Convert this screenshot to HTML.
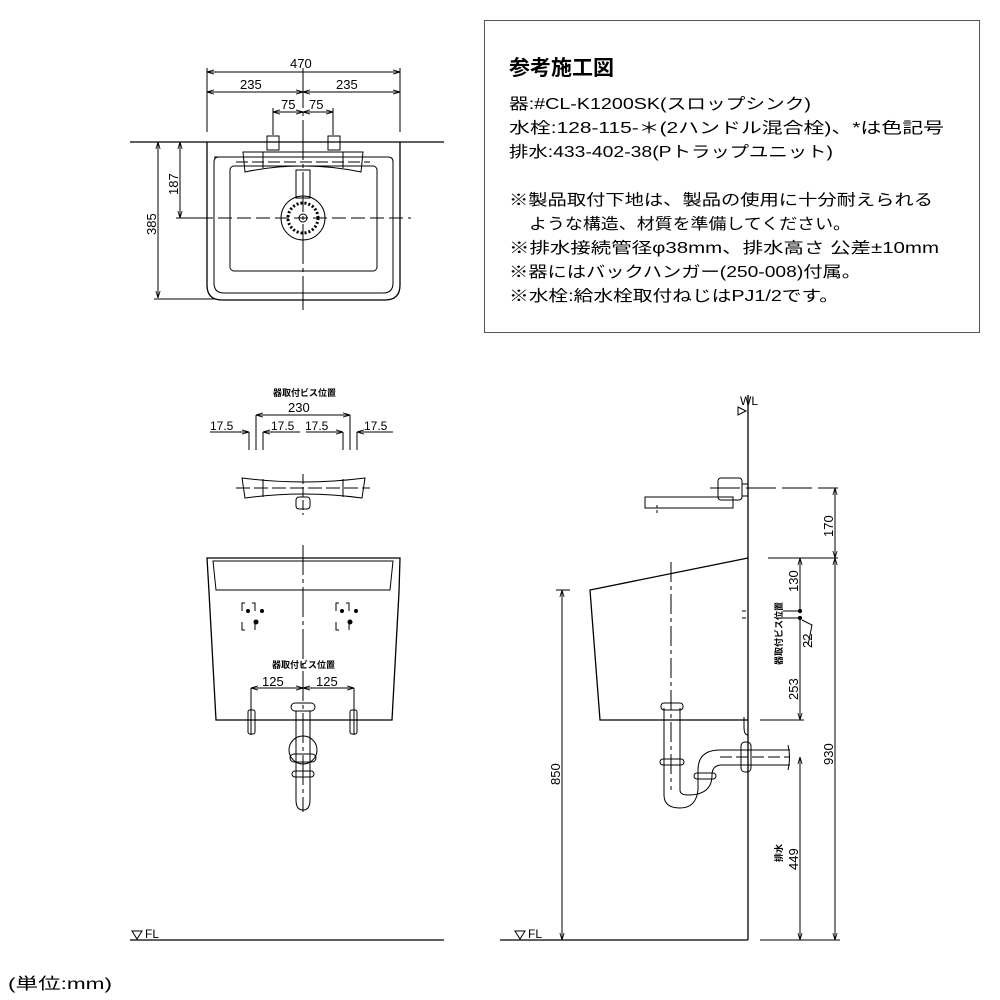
<!DOCTYPE html>
<html><head><meta charset="utf-8"><style>
html,body{margin:0;padding:0;background:#fff;}
svg{display:block;font-family:"Liberation Sans","Noto Sans CJK JP",sans-serif;}
</style></head><body>
<svg width="1000" height="1000" viewBox="0 0 1000 1000" xmlns="http://www.w3.org/2000/svg">
<defs>
<marker id="a" viewBox="0 0 10 10" refX="10" refY="5" markerWidth="7" markerHeight="7" orient="auto-start-reverse"><path d="M0,2 L10,5 L0,8" fill="none" stroke="#000" stroke-width="1.2"/></marker>
</defs>
<g fill="none" stroke="#000" stroke-width="1">
<rect x="484.5" y="20.5" width="495" height="312" stroke="#555"/>

<line x1="207" y1="72" x2="400" y2="72" marker-start="url(#a)" marker-end="url(#a)"/>
<line x1="207" y1="92" x2="303" y2="92" marker-start="url(#a)" marker-end="url(#a)"/>
<line x1="303" y1="92" x2="400" y2="92" marker-start="url(#a)" marker-end="url(#a)"/>
<line x1="273" y1="112" x2="303" y2="112" marker-start="url(#a)" marker-end="url(#a)"/>
<line x1="303" y1="112" x2="333" y2="112" marker-start="url(#a)" marker-end="url(#a)"/>
<line x1="207" y1="68" x2="207" y2="132"/><line x1="400" y1="68" x2="400" y2="132"/>
<line x1="273" y1="108" x2="273" y2="135"/><line x1="333" y1="108" x2="333" y2="135"/>
<line x1="130" y1="142" x2="444" y2="142" stroke-width="1.3"/>
<path d="M207,142 V285 Q207,300 222,300 H385 Q400,300 400,285 V142" stroke-width="1.3"/>
<path d="M214,157 H388 Q393,157 393,162 V283 Q393,293 383,293 H224 Q214,293 214,283 V162 Q214,157 219,157 Z"/>
<rect x="230" y="166" width="147" height="105" rx="4"/>
<line x1="303" y1="68" x2="303" y2="310" stroke-dasharray="40 4 4 4"/>
<line x1="180" y1="218" x2="411" y2="218" stroke-dasharray="14 5"/>
<rect x="267" y="136" width="12" height="14"/><rect x="328" y="136" width="12" height="14"/>
<path d="M243,152 L363,152 L361,172 Q333,166 303,166 Q273,166 245,172 Z"/>
<line x1="263" y1="152" x2="263" y2="168"/><line x1="343" y1="152" x2="343" y2="168"/>
<line x1="236" y1="162" x2="370" y2="162" stroke-dasharray="12 4"/>
<rect x="296" y="170" width="14" height="28"/>
<circle cx="303" cy="218" r="22"/><circle cx="303" cy="218" r="15" stroke-width="3" stroke-dasharray="2 2"/><circle cx="303" cy="218" r="4"/>
<line x1="180" y1="142" x2="180" y2="218" marker-start="url(#a)" marker-end="url(#a)"/>
<line x1="158" y1="142" x2="158" y2="298" marker-start="url(#a)" marker-end="url(#a)"/>
<line x1="176" y1="218" x2="200" y2="218"/>
<line x1="154" y1="299" x2="215" y2="299"/>

<line x1="256" y1="415" x2="350" y2="415" marker-start="url(#a)" marker-end="url(#a)"/>
<line x1="256" y1="415" x2="256" y2="450"/><line x1="350" y1="415" x2="350" y2="450"/>
<line x1="249" y1="432" x2="249" y2="450"/><line x1="263" y1="432" x2="263" y2="450"/>
<line x1="343" y1="432" x2="343" y2="450"/><line x1="357" y1="432" x2="357" y2="450"/>
<line x1="210" y1="432" x2="249" y2="432" marker-end="url(#a)"/>
<line x1="300" y1="432" x2="263" y2="432" marker-end="url(#a)"/>
<line x1="306" y1="432" x2="343" y2="432" marker-end="url(#a)"/>
<line x1="393" y1="432" x2="357" y2="432" marker-end="url(#a)"/>
<path d="M242,478 Q303,486 365,478 L362,498 Q303,490 245,498 Z"/>
<line x1="263" y1="479" x2="263" y2="497"/><line x1="343" y1="479" x2="343" y2="497"/>
<line x1="236" y1="488" x2="370" y2="488" stroke-dasharray="14 4"/>
<line x1="303" y1="474" x2="303" y2="515" stroke-dasharray="10 3"/>
<rect x="296" y="497" width="14" height="12" rx="3"/>

<path d="M207,558 H400 L399,592 L392,720 H216 L209,592 Z" stroke-width="1.3"/>
<path d="M213,561 H393 L390,590 H216 Z"/>
<line x1="303" y1="545" x2="303" y2="812" stroke-dasharray="30 4 4 4"/>
<path d="M245,603 h-3 v8 M252,603 h3 v8 M245,630 h-3 v-8 M255,630 v-8" />
<path d="M339,603 h-3 v8 M346,603 h3 v8 M339,630 h-3 v-8 M349,630 v-8"/>
<circle cx="248" cy="611" r="1.5" fill="#000"/><circle cx="262" cy="611" r="1.5" fill="#000"/><circle cx="256" cy="622" r="2" fill="#000"/>
<circle cx="342" cy="611" r="1.5" fill="#000"/><circle cx="356" cy="611" r="1.5" fill="#000"/><circle cx="350" cy="622" r="2" fill="#000"/>
<line x1="251" y1="688" x2="303" y2="688" marker-start="url(#a)" marker-end="url(#a)"/>
<line x1="303" y1="688" x2="354" y2="688" marker-start="url(#a)" marker-end="url(#a)"/>
<line x1="251" y1="688" x2="251" y2="735"/><line x1="354" y1="688" x2="354" y2="735"/>
<rect x="248" y="710" width="7" height="24" rx="2"/><rect x="350" y="710" width="7" height="24" rx="2"/>
<rect x="291" y="703" width="24" height="8" rx="4"/>
<path d="M296,711 V790 M310,711 V790 M296,790 V800 Q296,810 303,810 Q310,810 310,800 V790"/>
<circle cx="303" cy="750" r="14"/>
<rect x="290" y="754" width="26" height="8" rx="4"/>
<rect x="292" y="771" width="22" height="6" rx="3"/>
<line x1="130" y1="940" x2="444" y2="940" stroke-width="1.3"/>
<path d="M132,931 h10 l-5,8 z"/>

<line x1="748" y1="395" x2="748" y2="940" stroke-width="1.3"/>
<path d="M738,407 l8,4 l-8,4 z"/>
<rect x="718" y="478" width="24" height="22" rx="3"/>
<rect x="742" y="484" width="6" height="12"/>
<path d="M645,497 H733 V508 H645 Z"/>
<line x1="657" y1="505" x2="657" y2="515" stroke-dasharray="3 2"/>
<line x1="710" y1="488" x2="838" y2="488" stroke-dasharray="30 6"/>
<path d="M748,558 L590,590 L600,720 H748" stroke-width="1.3"/>
<line x1="671" y1="562" x2="671" y2="790" stroke-dasharray="20 4 4 4"/>
<path d="M744,717 v10 q0,8 4,8"/>
<rect x="741" y="742" width="10" height="30" rx="4"/>
<path d="M664,708 V795 Q664,808 680,808 Q696,808 698,790 V770 Q698,750 720,750 H790 M680,708 V790 Q680,795 688,795 Q712,795 712,775 Q712,765 722,765 H790" />
<rect x="661" y="703" width="22" height="7" rx="3"/>
<rect x="660" y="759" width="24" height="6" rx="3"/>
<rect x="694" y="773" width="22" height="6" rx="3"/>
<line x1="720" y1="757" x2="790" y2="757" stroke-dasharray="12 4"/>
<path d="M788,745 q3,12 0,25"/>
<line x1="562" y1="590" x2="562" y2="940" marker-start="url(#a)" marker-end="url(#a)"/>
<line x1="556" y1="590" x2="570" y2="590"/>
<line x1="500" y1="940" x2="748" y2="940" stroke-width="1.3"/>
<path d="M515,931 h10 l-5,8 z"/>
<line x1="760" y1="940" x2="840" y2="940"/>
<line x1="835" y1="488" x2="835" y2="558" marker-start="url(#a)" marker-end="url(#a)"/>
<line x1="835" y1="558" x2="835" y2="940" marker-start="url(#a)" marker-end="url(#a)"/>
<line x1="768" y1="558" x2="838" y2="558"/>
<line x1="800" y1="558" x2="800" y2="611" marker-start="url(#a)"/>
<line x1="800" y1="618" x2="800" y2="720" marker-end="url(#a)"/>
<line x1="760" y1="720" x2="804" y2="720"/>
<line x1="783" y1="611" x2="802" y2="611"/><line x1="783" y1="618" x2="802" y2="618"/>
<circle cx="800" cy="611" r="1.6" fill="#000"/><circle cx="800" cy="618" r="1.6" fill="#000"/>
<path d="M802,620 L812,625 L808,645"/>
<line x1="742" y1="611" x2="746" y2="611"/><line x1="742" y1="618" x2="746" y2="618"/>
<line x1="800" y1="757" x2="800" y2="940" marker-start="url(#a)" marker-end="url(#a)"/>
</g>

<g fill="#000" font-size="13">
<text x="290" y="68">470</text>
<text x="240" y="89">235</text><text x="336" y="89">235</text>
<text x="281" y="109">75</text><text x="309" y="109">75</text>
<text transform="translate(178,195) rotate(-90)">187</text>
<text transform="translate(156,235) rotate(-90)">385</text>
<text x="273" y="396" font-size="9" font-weight="bold">器取付ビス位置</text>
<text x="288" y="412">230</text>
<text x="210" y="430" font-size="12">17.5</text><text x="271" y="430" font-size="12">17.5</text>
<text x="305" y="430" font-size="12">17.5</text><text x="364" y="430" font-size="12">17.5</text>
<text x="272" y="668" font-size="9" font-weight="bold">器取付ビス位置</text>
<text x="262" y="686">125</text><text x="316" y="686">125</text>
<text x="145" y="938" font-size="12">FL</text>
<text x="528" y="938" font-size="12">FL</text>
<text x="740" y="405" font-size="12">WL</text>
<text transform="translate(560,785) rotate(-90)">850</text>
<text transform="translate(833,537) rotate(-90)">170</text>
<text transform="translate(833,765) rotate(-90)">930</text>
<text transform="translate(798,592) rotate(-90)">130</text>
<text transform="translate(798,700) rotate(-90)">253</text>
<text transform="translate(812,648) rotate(-90)">22</text>
<text transform="translate(782,665) rotate(-90)" font-size="9" font-weight="bold">器取付ビス位置</text>
<text transform="translate(798,870) rotate(-90)">449</text>
<text transform="translate(782,862) rotate(-90)" font-size="9" font-weight="bold">排水</text>
<text x="8" y="989" font-size="16" textLength="104" lengthAdjust="spacingAndGlyphs">(単位:mm)</text>

<text x="509" y="75" font-size="21" font-weight="bold">参考施工図</text>
<g font-size="15.5">
<text x="509" y="109" textLength="302" lengthAdjust="spacingAndGlyphs">器:#CL-K1200SK(スロップシンク)</text>
<text x="509" y="133" textLength="435" lengthAdjust="spacingAndGlyphs">水栓:128-115-＊(2ハンドル混合栓)、*は色記号</text>
<text x="509" y="157" textLength="324" lengthAdjust="spacingAndGlyphs">排水:433-402-38(Pトラップユニット)</text>
<text x="509" y="205" textLength="424" lengthAdjust="spacingAndGlyphs">※製品取付下地は、製品の使用に十分耐えられる</text>
<text x="529" y="229" textLength="322" lengthAdjust="spacingAndGlyphs">ような構造、材質を準備してください。</text>
<text x="509" y="253" textLength="430" lengthAdjust="spacingAndGlyphs">※排水接続管径φ38mm、排水高さ 公差±10mm</text>
<text x="509" y="277" textLength="352" lengthAdjust="spacingAndGlyphs">※器にはバックハンガー(250-008)付属。</text>
<text x="509" y="301" textLength="330" lengthAdjust="spacingAndGlyphs">※水栓:給水栓取付ねじはPJ1/2です。</text>
</g>
</g>
</svg>
</body></html>
